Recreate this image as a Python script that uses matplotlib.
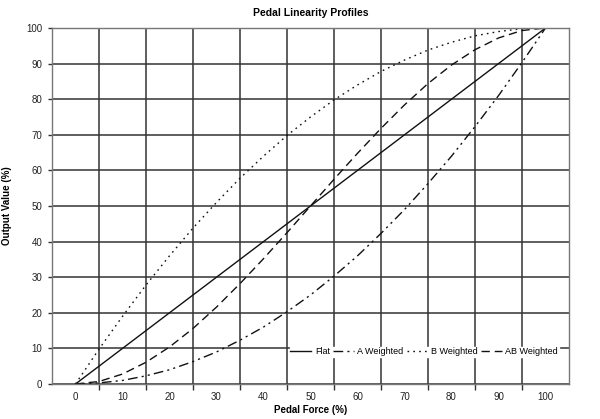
import matplotlib
matplotlib.use("Agg")
import matplotlib.pyplot as plt
from matplotlib.ticker import FixedLocator

plt.rcParams['font.family'] = ['Liberation Sans', 'DejaVu Sans']

force = [0, 5, 10, 15, 20, 25, 30, 35, 40, 45, 50, 55, 60, 65, 70, 75, 80, 85, 90, 95, 100]
flat = [0, 5, 10, 15, 20, 25, 30, 35, 40, 45, 50, 55, 60, 65, 70, 75, 80, 85, 90, 95, 100]
a_weighted = [0, 0.3, 1, 2.3, 4, 6.3, 9, 12.3, 16, 20.3, 25, 30.3, 36, 42.3, 49, 56.3, 64, 72.3, 81, 90.3, 100]
b_weighted = [0, 9.8, 19, 27.8, 36, 43.8, 51, 57.8, 64, 69.8, 75, 79.8, 84, 87.8, 91, 93.8, 96, 97.8, 99, 99.8, 100]
ab_weighted = [0, 0.7, 2.8, 6.1, 10.4, 15.6, 21.6, 28.2, 35.2, 42.5, 50, 57.5, 64.8, 71.8, 78.4, 84.4, 89.6, 93.9, 97.2, 99.3, 100]
x_ticks = [0, 10, 20, 30, 40, 50, 60, 70, 80, 90, 100]
y_ticks = [0, 10, 20, 30, 40, 50, 60, 70, 80, 90, 100]

fig = plt.figure(figsize=(6.0, 4.19), dpi=100)
ax = fig.add_axes([52/600, 1-384/419, (569-52)/600, (384-28)/419])

gc = '#333333'
ax.plot(force, flat, color='#111111', lw=1.0, ls='-', label='Flat')
ax.plot(force, a_weighted, color='#111111', lw=1.0, ls=(0, (7, 3, 1.5, 3, 1.5, 3)), label='A Weighted')
ax.plot(force, b_weighted, color='#111111', lw=1.0, ls=(0, (1.2, 3)), label='B Weighted')
ax.plot(force, ab_weighted, color='#111111', lw=1.0, ls=(0, (6, 3.5)), label='AB Weighted')

ax.set_xlim(-5, 105)
ax.set_ylim(0, 100)
ax.xaxis.set_major_locator(FixedLocator(x_ticks))
ax.xaxis.set_minor_locator(FixedLocator([5, 15, 25, 35, 45, 55, 65, 75, 85, 95]))
ax.yaxis.set_major_locator(FixedLocator(y_ticks))
ax.tick_params(axis='x', which='major', length=0, labelsize=7, pad=6, colors='#222222')
ax.tick_params(axis='x', which='minor', length=4, width=1, color=gc, direction='out')
ax.tick_params(axis='y', which='major', length=3, width=1, color=gc, labelsize=7, pad=4, labelcolor='#222222')
ax.grid(True, axis='y', which='major', color=gc, lw=1.1)
ax.grid(True, axis='x', which='minor', color=gc, lw=1.1)
ax.grid(False, axis='x', which='major')
ax.set_axisbelow(True)
for s in ax.spines.values():
    s.set_color('#777777')
    s.set_linewidth(1.0)

ax.set_title('Pedal Linearity Profiles', fontsize=7.5, fontweight='bold', pad=9)
ax.set_xlabel('Pedal Force (%)', fontsize=7, fontweight='bold', labelpad=2)
ax.set_ylabel('Output Value (%)', fontsize=7, fontweight='bold', labelpad=10)

leg = ax.legend(loc='center right', bbox_to_anchor=(1.0, 0.09), ncol=4, fontsize=6.5,
                frameon=True, fancybox=False, handlelength=2.3, handletextpad=0.4,
                columnspacing=0.35, borderpad=0.1, borderaxespad=1.1)
leg.get_frame().set_facecolor('white')
leg.get_frame().set_edgecolor('white')
leg.get_frame().set_alpha(1.0)

fig.savefig('out.png', dpi=100)
